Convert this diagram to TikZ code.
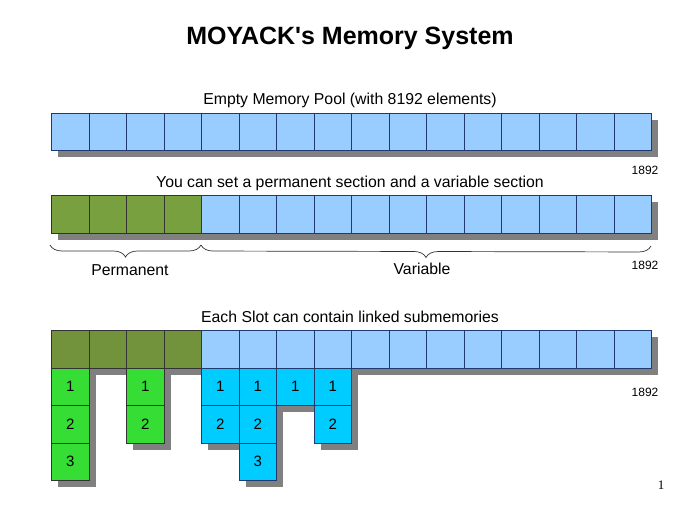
\documentclass[tikz,border=0pt]{standalone}
\usepackage{fontspec}
\setmainfont{Liberation Sans}
\newfontfamily\titlefont{Liberation Sans}[Ligatures=TeXOff]
\newfontfamily\serifpn{Liberation Serif}
\usetikzlibrary{decorations.pathreplacing}
\definecolor{cellblue}{HTML}{99CCFF}
\definecolor{cellborder}{HTML}{1F3A6E}
\definecolor{permgreen}{HTML}{78A03F}
\definecolor{permgreenB}{HTML}{72933C}
\definecolor{subgreen}{HTML}{35DD35}
\definecolor{subcyan}{HTML}{00CCFF}
\definecolor{shgray}{HTML}{808080}
\begin{document}
\begin{tikzpicture}[x=1pt,y=-1pt,
  cellbox/.style={draw=cellborder, line width=0.9pt, minimum width=37.5pt, minimum height=37.5pt,
    inner sep=0pt, anchor=north west, font=\fontsize{15}{17}\selectfont},
  permbox/.style={cellbox, draw=black!80},
  subt/.style={font=\fontsize{15.8}{18}\selectfont, inner sep=0pt},
  lbl/.style={font=\fontsize{12}{14}\selectfont, inner sep=0pt},
  shadowfill/.style={fill=shgray},
  bracestyle/.style={draw=black!80, line width=0.7pt, decorate, decoration={brace, mirror, amplitude=12pt}}]
\useasboundingbox (0,0) rectangle (700,525);

% title and captions
\node[font=\titlefont\fontsize{25}{28}\selectfont\bfseries, inner sep=0pt] (title) at (350,38) {MOYACK's Memory System};
\node[subt] (t1) at (350,100) {Empty Memory Pool (with 8192 elements)};
\node[subt] (t2) at (350,183) {You can set a permanent section and a variable section};
\node[subt] (t3) at (350,317) {Each Slot can contain linked submemories};

% shadows
\fill[shadowfill] (58,119.5) rectangle ++(600,37.5);
\fill[shadowfill] (58,202) rectangle ++(600,37.5);
\fill[shadowfill] (58,337) rectangle ++(600,37.5);
\foreach \c/\n in {0/3,2/2,4/2,5/3,6/1,7/2}
  \fill[shadowfill] ({58+37.5*\c},374.5) rectangle ++(37.5,{37.5*\n});

% row 1
\foreach \i in {0,...,15}
  \node[cellbox, fill=cellblue] (a\i) at ({51+37.5*\i},112.5) {};
% row 2
\foreach \i in {0,...,3}
  \node[permbox, fill=permgreen] (b\i) at ({51+37.5*\i},195) {};
\foreach \i in {4,...,15}
  \node[cellbox, fill=cellblue] (b\i) at ({51+37.5*\i},195) {};
% row 3
\foreach \i in {0,...,3}
  \node[permbox, fill=permgreenB] (c\i) at ({51+37.5*\i},330) {};
\foreach \i in {4,...,15}
  \node[cellbox, fill=cellblue] (c\i) at ({51+37.5*\i},330) {};
% submemories
\foreach \c/\r in {0/1,0/2,0/3,2/1,2/2}
  \node[permbox, fill=subgreen] (s\c-\r) at ({51+37.5*\c},{330+37.5*\r}) {\r};
\foreach \c/\r in {4/1,4/2,5/1,5/2,5/3,6/1,7/1,7/2}
  \node[cellbox, fill=subcyan] (s\c-\r) at ({51+37.5*\c},{330+37.5*\r}) {\r};

% sizes
\node[lbl] (n1) at (645,170) {1892};
\node[lbl] (n2) at (645,265) {1892};
\node[lbl] (n3) at (645,392) {1892};

% braces
\coordinate (bL) at (50,245);
\coordinate (bM) at (201,245);
\coordinate (bR) at (651,246);
\draw[bracestyle] (bL) -- (bM);
\draw[bracestyle] (bM) -- (bR);
\node[subt] (perm) at (130,270) {Permanent};
\node[subt] (var) at (422,269) {Variable};

% page number
\node[font=\serifpn\fontsize{13}{15}\selectfont, inner sep=0pt] (pg) at (661,485) {1};
\end{tikzpicture}
\end{document}
